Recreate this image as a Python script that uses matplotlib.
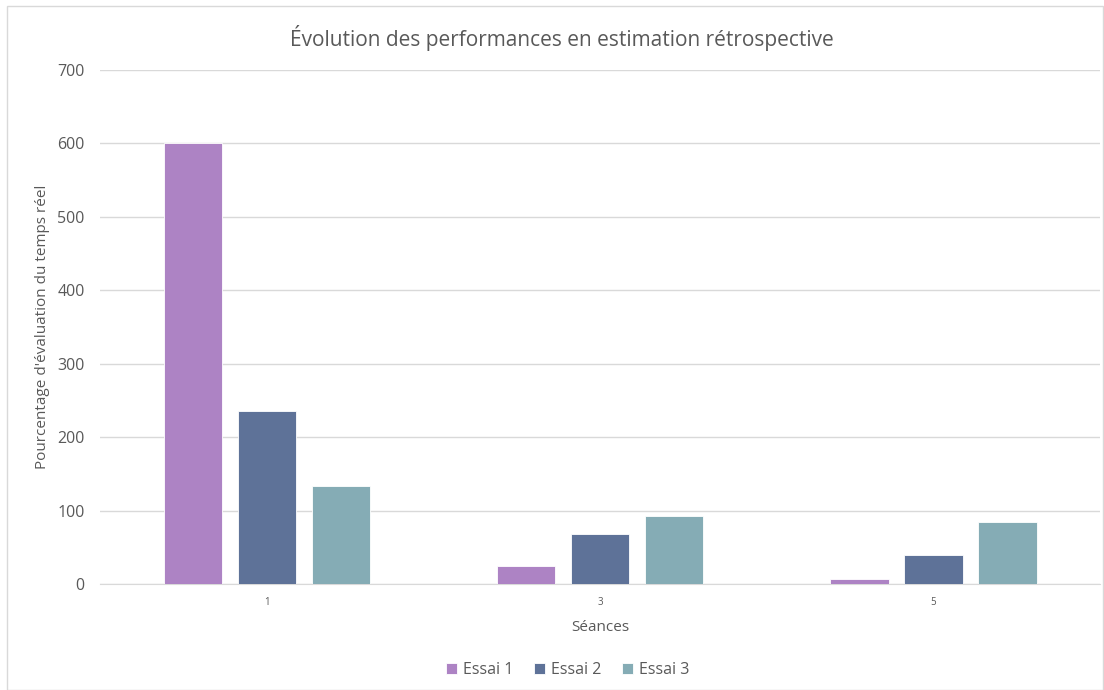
import numpy as np
import matplotlib
matplotlib.use("Agg")
import matplotlib.pyplot as plt
from matplotlib.patches import Rectangle

plt.rcParams['font.family'] = ['Open Sans', 'DejaVu Sans']

seances = ["1", "3", "5"]
essai1 = [600, 25, 7]
essai2 = [235, 68, 40]
essai3 = [133, 93, 85]
series_names = ["Essai 1", "Essai 2", "Essai 3"]
colors = ["#AD83C4", "#5E7298", "#85ACB5"]

fig = plt.figure(figsize=(11.04, 6.90), dpi=100)
ax = fig.add_axes([0.0906, 0.1536, 0.9058, 0.745])

x = np.arange(len(seances))
width = 0.175
offset = 0.222
for i, (vals, name, c) in enumerate(zip([essai1, essai2, essai3], series_names, colors)):
    ax.bar(x + (i - 1) * offset, vals, width, color=c, label=name,
           edgecolor="white", linewidth=0.6, zorder=3)

ax.set_xlim(-0.5, 2.5)
ax.set_ylim(0, 700)
ax.set_yticks(np.arange(0, 701, 100))
ax.set_xticks(x)
ax.set_xticklabels(seances, fontsize=7, color="#595959")
ax.tick_params(axis="y", labelsize=11.5, colors="#595959", length=0, pad=11)
ax.tick_params(axis="x", length=0, pad=9)
ax.grid(axis="y", color="#D9D9D9", linewidth=1, zorder=0)
for s in ["top", "right", "left"]:
    ax.spines[s].set_visible(False)
ax.spines["bottom"].set_color("#D9D9D9")

fig.text(0.509, 0.945, "Évolution des performances en estimation rétrospective",
         fontsize=15, color="#595959", ha="center", va="center")
ax.set_xlabel("Séances", fontsize=11, color="#595959", labelpad=9)
ax.set_ylabel("Pourcentage d'évaluation du temps réel", fontsize=11,
              color="#595959", labelpad=5)

fig.legend(*ax.get_legend_handles_labels(), loc="center", bbox_to_anchor=(0.514, 0.029),
           ncol=3, frameon=False, fontsize=11.5, handlelength=0.7, handleheight=0.7,
           handletextpad=0.35, columnspacing=1.3, labelcolor="#595959")

fig.patches.append(Rectangle((0.006, 0.0), 0.993, 0.992, transform=fig.transFigure,
                             fill=False, edgecolor="#D9D9D9", linewidth=1))

fig.savefig("out.png", dpi=100)
